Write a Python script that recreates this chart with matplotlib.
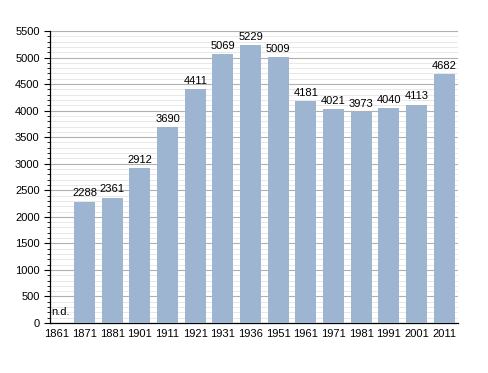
import matplotlib

matplotlib.use("Agg")
import matplotlib.pyplot as plt
from matplotlib.ticker import MultipleLocator

years = ["1861", "1871", "1881", "1901", "1911", "1921", "1931", "1936",
         "1951", "1961", "1971", "1981", "1991", "2001", "2011"]
population = [None, 2288, 2361, 2912, 3690, 4411, 5069, 5229,
              5009, 4181, 4021, 3973, 4040, 4113, 4682]

plt.rcParams["font.family"] = ["Liberation Sans", "DejaVu Sans"]

fig = plt.figure(figsize=(4.88, 3.73), dpi=100)
ax = fig.add_axes([0.1025, 0.134, 0.836, 0.783])

xs = list(range(len(years)))
for x, v in zip(xs, population):
    if v is None:
        ax.text(x - 0.2, 120, "n.d.", ha="left", va="bottom", fontsize=8)
        continue
    ax.bar(x, v, width=0.76, color="#9db5d0", zorder=3)
    ax.text(x, v + 60, str(v), ha="center", va="bottom", fontsize=8)

ax.set_xlim(-0.25, 14.5)
ax.set_ylim(0, 5500)
ax.set_xticks(xs)
ax.set_xticklabels(years, fontsize=8)
ax.yaxis.set_major_locator(MultipleLocator(500))
ax.yaxis.set_minor_locator(MultipleLocator(100))
ax.tick_params(axis="y", labelsize=8, length=4, width=0.8)
ax.tick_params(axis="y", which="minor", length=2, width=0.6)
ax.tick_params(axis="x", length=0, pad=4)
ax.grid(axis="y", which="major", color="#b0b0b0", linewidth=0.8, zorder=0)
ax.grid(axis="y", which="minor", color="#e4e4e4", linewidth=0.6, zorder=0)
for side in ("top", "right"):
    ax.spines[side].set_visible(False)
ax.spines["left"].set_linewidth(0.9)
ax.spines["bottom"].set_linewidth(0.9)

fig.savefig("out.png", dpi=100)
